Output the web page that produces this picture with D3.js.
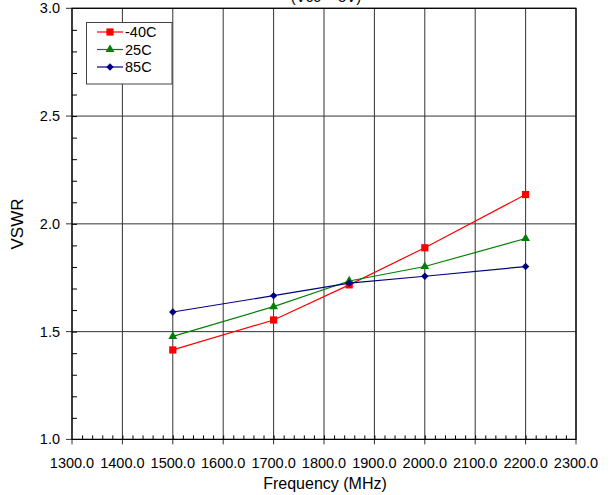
<!DOCTYPE html>
<html>
<head>
<meta charset="utf-8">
<script src="https://cdn.jsdelivr.net/npm/d3@7"></script>
<style>
  body { margin: 0; background: #fff; }
  svg { display: block; font-family: "Liberation Sans", Arial, Helvetica, sans-serif; }
</style>
</head>
<body>
<svg width="613" height="495"></svg>
<script>
// frequencies measured (MHz)
var freqs = [1500, 1700, 1850, 2000, 2200];

// VSWR per temperature
var vswrM40 = [1.415, 1.554, 1.717, 1.889, 2.136];
var vswr25 = [1.478, 1.616, 1.735, 1.802, 1.932];
var vswr85 = [1.591, 1.667, 1.725, 1.757, 1.802];

var seriesNames = ["-40C", "25C", "85C"];

var xTicks = [1300, 1400, 1500, 1600, 1700, 1800, 1900, 2000, 2100, 2200, 2300];
var yTicks = [1.0, 1.5, 2.0, 2.5, 3.0];

var titleText = "(Vcc = 5V)";

//plot area (window.top is read only, so use other names)
var plotLeft = 72, plotRight = 576, plotTop = 8.3, plotBottom = 439.4;

var svg = d3.select("svg");

var x = d3.scaleLinear().domain([1300, 2300]).range([plotLeft, plotRight]);
var y = d3.scaleLinear().domain([1.0, 3.0]).range([plotBottom, plotTop]);

//title, cut off at the top of the picture like in the original
svg.append("text")
	.attr("x", 326)
	.attr("y", 1.5)
	.attr("text-anchor", "middle")
	.style("font-size", "15px")
	.text(titleText);

//grid lines
svg.append("g")
	.selectAll("line")
	.data(xTicks)
	.enter()
	.append("line")
	.attr("x1", function(d){ return x(d); })
	.attr("x2", function(d){ return x(d); })
	.attr("y1", plotTop)
	.attr("y2", plotBottom + 5)
	.style("stroke", "#333")
	.style("stroke-width", 1);

svg.append("g")
	.selectAll("line")
	.data(yTicks)
	.enter()
	.append("line")
	.attr("x1", plotLeft - 6)
	.attr("x2", plotRight)
	.attr("y1", function(d){ return y(d); })
	.attr("y2", function(d){ return y(d); })
	.style("stroke", "#333")
	.style("stroke-width", 1);

//minor ticks, pointing inside
svg.append("g")
	.attr("transform", "translate(0," + plotBottom + ")")
	.call(d3.axisTop(x).tickValues(d3.range(1320, 2300, 20)).tickSize(4).tickFormat(""))
	.call(function(g){ g.select(".domain").remove(); })
	.selectAll("line").style("stroke", "#000");

svg.append("g")
	.attr("transform", "translate(" + plotLeft + ",0)")
	.call(d3.axisRight(y).tickValues(d3.range(11, 30).map(function(d){ return d / 10; })).tickSize(5).tickFormat(""))
	.call(function(g){ g.select(".domain").remove(); })
	.selectAll("line").style("stroke", "#000");

//tick labels
svg.append("g")
	.selectAll("text")
	.data(xTicks)
	.enter()
	.append("text")
	.attr("x", function(d){ return x(d); })
	.attr("y", 468)
	.attr("text-anchor", "middle")
	.style("font-size", "14.5px")
	.text(function(d){ return d.toFixed(1); });

svg.append("g")
	.selectAll("text")
	.data(yTicks)
	.enter()
	.append("text")
	.attr("x", 60)
	.attr("y", function(d){ return y(d) + 5; })
	.attr("text-anchor", "end")
	.style("font-size", "14.5px")
	.text(function(d){ return d.toFixed(1); });

//frame
svg.append("rect")
	.attr("x", plotLeft)
	.attr("y", plotTop)
	.attr("width", plotRight - plotLeft)
	.attr("height", plotBottom - plotTop)
	.style("fill", "none")
	.style("stroke", "#000")
	.style("stroke-width", 1.2);

//axis titles
svg.append("text")
	.attr("x", 325)
	.attr("y", 489)
	.attr("text-anchor", "middle")
	.style("font-size", "16px")
	.text("Frequency (MHz)");

svg.append("text")
	.attr("transform", "translate(23,224) rotate(-90)")
	.attr("text-anchor", "middle")
	.style("font-size", "17px")
	.text("VSWR");

//series
var allSeries = [vswrM40, vswr25, vswr85];
var colors = ["#ff0000", "#008000", "#000080"];
//the diamond is a square turned by 45 degrees
var shapes = [d3.symbolSquare, d3.symbolTriangle, d3.symbolSquare];
var sizes = [52, 34, 28];
var turns = [0, 0, 45];

var line = d3.line()
	.x(function(d, i){ return x(freqs[i]); })
	.y(function(d){ return y(d); });

allSeries.forEach(function(values, s){
	svg.append("path")
		.datum(values)
		.attr("d", line)
		.style("fill", "none")
		.style("stroke", colors[s])
		.style("stroke-width", 1.2);

	svg.append("g")
		.selectAll("path")
		.data(values)
		.enter()
		.append("path")
		.attr("transform", function(d, i){
			return "translate(" + x(freqs[i]) + "," + y(d) + ") rotate(" + turns[s] + ")";
		})
		.attr("d", d3.symbol().type(shapes[s]).size(sizes[s]))
		.style("fill", colors[s]);
});

//legend
var legend = svg.append("g");
legend.append("rect")
	.attr("x", 86.5)
	.attr("y", 22.5)
	.attr("width", 85.5)
	.attr("height", 61.5)
	.style("fill", "#fff")
	.style("stroke", "#444")
	.style("stroke-width", 1);

seriesNames.forEach(function(name, s){
	var ly = 32 + s * 17.5;
	legend.append("line")
		.attr("x1", 97).attr("x2", 123)
		.attr("y1", ly).attr("y2", ly)
		.style("stroke", colors[s])
		.style("stroke-width", 1.2);
	legend.append("path")
		.attr("transform", "translate(110," + ly + ") rotate(" + turns[s] + ")")
		.attr("d", d3.symbol().type(shapes[s]).size(sizes[s]))
		.style("fill", colors[s]);
	legend.append("text")
		.attr("x", 125)
		.attr("y", ly + 5)
		.style("font-size", "14.5px")
		.text(name);
});
</script>
</body>
</html>
